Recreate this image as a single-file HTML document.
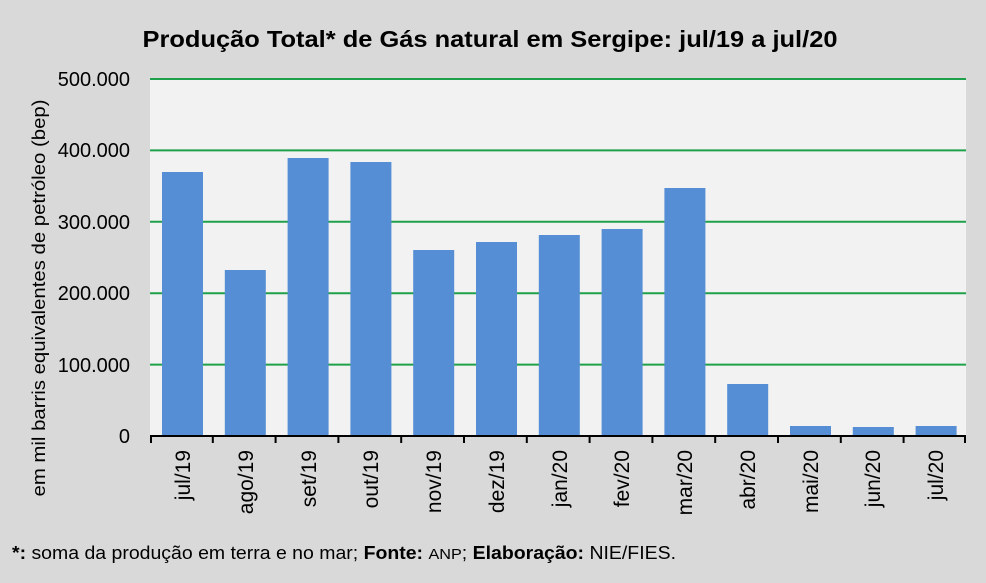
<!DOCTYPE html>
<html><head><meta charset="utf-8"><style>
html,body{margin:0;padding:0;background:#d9d9d9;}
svg{display:block;font-family:"Liberation Sans",Calibri,sans-serif;}
</style></head><body>
<svg width="986" height="583" viewBox="0 0 986 583" xmlns="http://www.w3.org/2000/svg">
<rect width="986" height="583" fill="#d9d9d9"/>
<rect x="150" y="79" width="816" height="357" fill="#f2f2f2"/>
<text x="490" y="47" text-anchor="middle" font-size="23" font-weight="bold" fill="#000" textLength="695" lengthAdjust="spacingAndGlyphs">Produção Total* de Gás natural em Sergipe: jul/19 a jul/20</text>
<g stroke="#1fa04a" stroke-width="2">
<line x1="150" y1="79" x2="966" y2="79"/><line x1="150" y1="150.4" x2="966" y2="150.4"/>
<line x1="150" y1="221.8" x2="966" y2="221.8"/><line x1="150" y1="293.2" x2="966" y2="293.2"/>
<line x1="150" y1="364.6" x2="966" y2="364.6"/>
</g>
<g font-size="20" text-anchor="end" fill="#000">
<text x="130" y="86">500.000</text><text x="130" y="157">400.000</text><text x="130" y="229">300.000</text>
<text x="130" y="300">200.000</text><text x="130" y="372">100.000</text><text x="130" y="443">0</text>
</g>
<text transform="translate(45,298) rotate(-90)" text-anchor="middle" font-size="18" fill="#000" textLength="397" lengthAdjust="spacingAndGlyphs">em mil barris equivalentes de petróleo (bep)</text>
<g fill="#558ed5">
<rect x="162" y="172" width="41" height="264"/>
<rect x="224.8" y="270" width="41" height="166"/>
<rect x="287.6" y="158" width="41" height="278"/>
<rect x="350.4" y="162" width="41" height="274"/>
<rect x="413.2" y="250" width="41" height="186"/>
<rect x="476" y="242" width="41" height="194"/>
<rect x="538.8" y="235" width="41" height="201"/>
<rect x="601.6" y="229" width="41" height="207"/>
<rect x="664.4" y="188" width="41" height="248"/>
<rect x="727.2" y="384" width="41" height="52"/>
<rect x="790" y="426" width="41" height="10"/>
<rect x="852.8" y="427" width="41" height="9"/>
<rect x="915.6" y="426" width="41" height="10"/>
</g>
<g stroke="#000" stroke-width="2">
<line x1="150" y1="436" x2="966" y2="436"/>
<line x1="151" y1="436" x2="151" y2="443"/><line x1="212.8" y1="436" x2="212.8" y2="443"/>
<line x1="275.6" y1="436" x2="275.6" y2="443"/><line x1="338.4" y1="436" x2="338.4" y2="443"/>
<line x1="401.2" y1="436" x2="401.2" y2="443"/><line x1="464" y1="436" x2="464" y2="443"/>
<line x1="526.8" y1="436" x2="526.8" y2="443"/><line x1="589.6" y1="436" x2="589.6" y2="443"/>
<line x1="652.4" y1="436" x2="652.4" y2="443"/><line x1="715.2" y1="436" x2="715.2" y2="443"/>
<line x1="778" y1="436" x2="778" y2="443"/><line x1="840.8" y1="436" x2="840.8" y2="443"/>
<line x1="903.6" y1="436" x2="903.6" y2="443"/><line x1="965" y1="436" x2="965" y2="443"/>
</g>
<g font-size="21" text-anchor="end" fill="#000">
<text transform="translate(190,450) rotate(-90)">jul/19</text>
<text transform="translate(253,450) rotate(-90)">ago/19</text>
<text transform="translate(316,450) rotate(-90)">set/19</text>
<text transform="translate(378,450) rotate(-90)">out/19</text>
<text transform="translate(441,450) rotate(-90)">nov/19</text>
<text transform="translate(504,450) rotate(-90)">dez/19</text>
<text transform="translate(567,450) rotate(-90)">jan/20</text>
<text transform="translate(629,450) rotate(-90)">fev/20</text>
<text transform="translate(692,450) rotate(-90)">mar/20</text>
<text transform="translate(755,450) rotate(-90)">abr/20</text>
<text transform="translate(818,450) rotate(-90)">mai/20</text>
<text transform="translate(880,450) rotate(-90)">jun/20</text>
<text transform="translate(943,450) rotate(-90)">jul/20</text>
</g>
<text x="12" y="559" font-size="18" fill="#000" textLength="664" lengthAdjust="spacingAndGlyphs"><tspan font-weight="bold">*:</tspan> soma da produção em terra e no mar; <tspan font-weight="bold">Fonte:</tspan> <tspan font-size="15">ANP</tspan>; <tspan font-weight="bold">Elaboração:</tspan> NIE/FIES.</text>
</svg>
</body></html>
